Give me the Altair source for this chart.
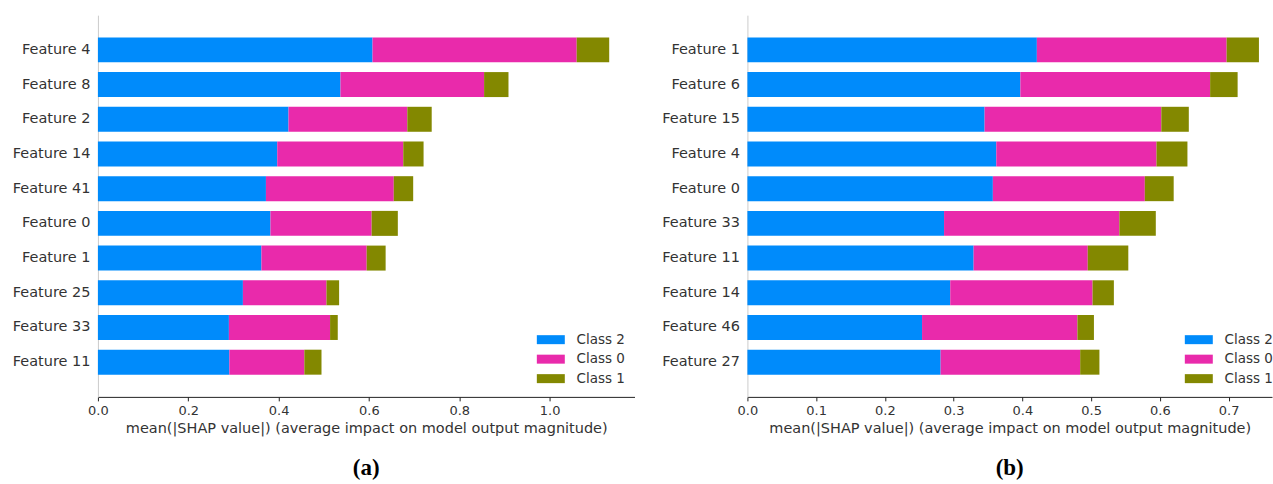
import altair as alt
import pandas as pd

# Mean |SHAP| per feature, split by class (panel a)
features_a = ["Feature 4", "Feature 8", "Feature 2", "Feature 14", "Feature 41",
              "Feature 0", "Feature 1", "Feature 25", "Feature 33", "Feature 11"]
class2_a = [0.608, 0.537, 0.422, 0.397, 0.372, 0.382, 0.362, 0.321, 0.290, 0.291]
class0_a = [0.452, 0.318, 0.263, 0.279, 0.283, 0.224, 0.233, 0.185, 0.224, 0.166]
class1_a = [0.072, 0.054, 0.054, 0.045, 0.043, 0.058, 0.042, 0.028, 0.017, 0.038]

# Mean |SHAP| per feature, split by class (panel b)
features_b = ["Feature 1", "Feature 6", "Feature 15", "Feature 4", "Feature 0",
              "Feature 33", "Feature 11", "Feature 14", "Feature 46", "Feature 27"]
class2_b = [0.421, 0.397, 0.345, 0.362, 0.357, 0.286, 0.329, 0.295, 0.254, 0.281]
class0_b = [0.276, 0.276, 0.257, 0.233, 0.221, 0.255, 0.166, 0.207, 0.226, 0.203]
class1_b = [0.047, 0.040, 0.040, 0.045, 0.042, 0.053, 0.059, 0.031, 0.024, 0.028]

classes = ["Class 2", "Class 0", "Class 1"]
colors = ["#008bfb", "#e92aab", "#838800"]

ticks_a = [0.0, 0.2, 0.4, 0.6, 0.8, 1.0]
ticks_b = [0.0, 0.1, 0.2, 0.3, 0.4, 0.5, 0.6, 0.7]

FONT = "DejaVu Sans"
TXT = "#333333"
XTITLE = "mean(|SHAP value|) (average impact on model output magnitude)"


def long_table(features, c2, c0, c1):
    rows = []
    for i, f in enumerate(features):
        for rank, (cls, vals) in enumerate(zip(classes, (c2, c0, c1))):
            rows.append({"feature": f, "cls": cls, "value": vals[i], "rank": rank})
    return pd.DataFrame(rows)


def panel(df, features, xmax, ticks, width, label, legend_x):
    return (
        alt.Chart(df)
        .mark_bar()
        .encode(
            y=alt.Y(
                "feature:N",
                sort=features,
                scale=alt.Scale(paddingInner=0.28, paddingOuter=0.64),
                axis=alt.Axis(
                    title=None, ticks=False, domainColor="#cccccc", domainWidth=1,
                    labelFontSize=14.5, labelColor=TXT, labelFont=FONT, labelPadding=8,
                    minExtent=98, maxExtent=98,
                ),
            ),
            x=alt.X(
                "value:Q",
                stack="zero",
                scale=alt.Scale(domain=[0, xmax], nice=False, zero=True),
                axis=alt.Axis(
                    title=XTITLE, values=ticks, format=".1f", grid=False,
                    domainColor="#222222", domainWidth=1, tickColor="#222222",
                    tickSize=4, labelFontSize=13, labelColor=TXT, labelFont=FONT,
                    labelPadding=4, titleFontSize=14.5, titleFont=FONT,
                    titleColor=TXT, titleFontWeight="normal", titlePadding=4,
                    labelFlush=False,
                ),
            ),
            color=alt.Color(
                "cls:N",
                scale=alt.Scale(domain=classes, range=colors),
                legend=alt.Legend(
                    title=None, orient="none", legendX=legend_x, legendY=318,
                    symbolType="M-2.8,-0.9H2.8V0.9H-2.8Z", symbolSize=100,
                    symbolStrokeWidth=0, symbolOpacity=1, labelOffset=19,
                    labelFontSize=13.5, labelColor=TXT, labelFont=FONT,
                    rowPadding=4.5, padding=0,
                ),
            ),
            order=alt.Order("rank:Q"),
        )
        .properties(
            width=width,
            height=382,
            title=alt.TitleParams(
                label, orient="bottom", font="Liberation Serif", fontSize=23,
                fontWeight="bold", color="#000000", offset=22,
            ),
        )
    )


left = panel(long_table(features_a, class2_a, class0_a, class1_a),
             features_a, 1.188, ticks_a, 537, "(a)", 446.5)
right = panel(long_table(features_b, class2_b, class0_b, class1_b),
              features_b, 0.763, ticks_b, 525, "(b)", 445)

chart = (
    alt.hconcat(left, right, spacing=15)
    .resolve_scale(x="independent", y="independent", color="independent")
    .resolve_legend(color="independent")
    .configure(padding={"left": 0, "top": 15, "right": 0, "bottom": 0})
    .configure_view(stroke=None)
    .configure_concat(spacing=15)
)

chart.save("out.html", embed_options={"renderer": "svg", "actions": False})
